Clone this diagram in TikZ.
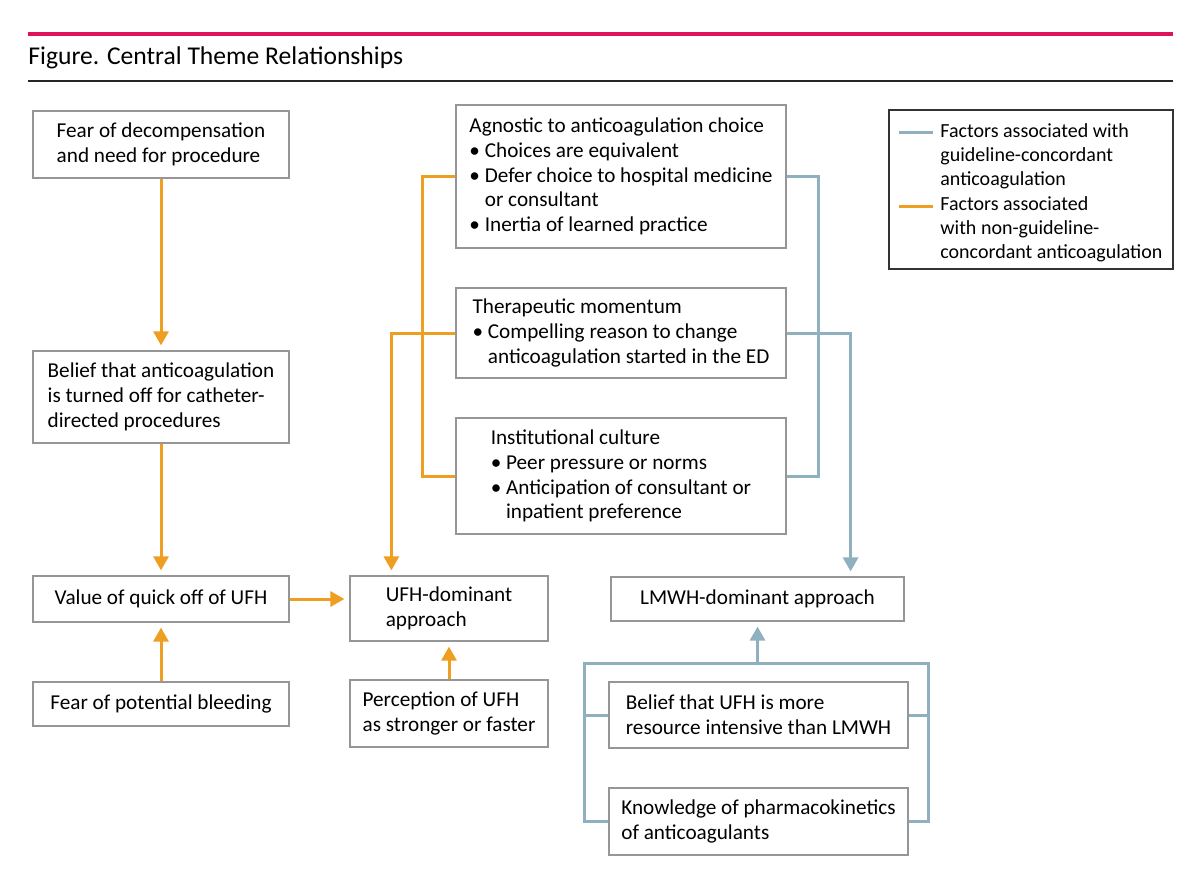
\documentclass[tikz,border=0pt]{standalone}
\usepackage{fontspec}
\setmainfont{Carlito}
\usetikzlibrary{arrows.meta}
\definecolor{jorange}{RGB}{238,158,32}
\definecolor{jblue}{RGB}{143,176,190}
\definecolor{jpink}{RGB}{224,18,92}
\definecolor{boxgray}{RGB}{150,150,150}
\newcommand{\bul}{\textbullet\ }
\newcommand{\hang}{\phantom{\textbullet\ }}
\tikzset{
	box/.style={draw=boxgray, line width=0.6pt, fill=white, align=left, inner sep=0pt, font=\fontsize{10.6}{12.4}\selectfont},
	oline/.style={jorange, line width=1.5pt},
	bline/.style={jblue, line width=1.5pt},
	oarrow/.style={oline, -{Triangle[length=7pt,width=7.5pt]}, shorten >=2.5pt},
	barrow/.style={bline, -{Triangle[length=7pt,width=7.5pt]}, shorten >=2.5pt},
	lgtext/.style={align=left, inner sep=0pt, font=\fontsize{10}{12}\selectfont}
}
\begin{document}
\begin{tikzpicture}[x=0.5pt,y=-0.5pt]
			\useasboundingbox (0,0) rectangle (1200,894);
			% header
			\draw [jpink, line width=2pt] (28,34) -- (1173,34);
			\node[anchor=west, inner sep=0pt, font=\fontsize{12.8}{14}\selectfont] (title) at (28,58) {Figure. Central Theme Relationships};
			\draw [black!85, line width=0.6pt] (28,81) -- (1173,81);
			% left column
			\node[box, minimum width=128pt, minimum height=33.5pt] (fear) at (161,144.5) {Fear of decompensation\\and need for procedure};
			\node[box, minimum width=128pt, minimum height=46pt] (belief) at (161,397) {Belief that anticoagulation\\is turned off for catheter-\\directed procedures};
			\node[box, minimum width=128pt, minimum height=23pt] (quick) at (161,599) {Value of quick off of UFH};
			\node[box, minimum width=128pt, minimum height=22pt] (bleed) at (161,704) {Fear of potential bleeding};
			% middle column
			\node[box, minimum width=165pt, minimum height=71.5pt] (agnostic) at (621,176.5) {Agnostic to anticoagulation choice\\\bul Choices are equivalent\\\bul Defer choice to hospital medicine\\\hang or consultant\\\bul Inertia of learned practice};
			\node[box, minimum width=165pt, minimum height=45pt] (momentum) at (621,333) {Therapeutic momentum\\\bul Compelling reason to change\\\hang anticoagulation started in the ED};
			\node[box, minimum width=165pt, minimum height=58pt] (culture) at (621,476) {Institutional culture\\\bul Peer pressure or norms\\\bul Anticipation of consultant or\\\hang inpatient preference};
			\node[box, minimum width=99pt, minimum height=32.5pt] (ufh) at (449,608.5) {UFH-dominant\\approach};
			\node[box, minimum width=99pt, minimum height=33.5pt] (percep) at (449,713.5) {Perception of UFH\\as stronger or faster};
			% right column
			\node[box, minimum width=146.5pt, minimum height=22pt] (lmwh) at (757.5,599) {LMWH-dominant approach};
			\node[box, minimum width=149.5pt, minimum height=33pt] (resource) at (758.5,715) {Belief that UFH is more\\resource intensive than LMWH};
			\node[box, minimum width=149.5pt, minimum height=33.5pt] (kinetics) at (758.5,821.5) {Knowledge of pharmacokinetics\\of anticoagulants};
			% legend
			\node[draw=black!80, line width=0.6pt, minimum width=142pt, minimum height=79.5pt, inner sep=0pt] (legend) at (1031,189.5) {};
			\node[lgtext, anchor=west] (lgblue) at (940,156) {Factors associated with\\guideline-concordant\\anticoagulation};
			\node[lgtext, anchor=west] (lgorange) at (940,229) {Factors associated\\with non-guideline-\\concordant anticoagulation};
			\draw [bline] ([xshift=-20.5pt,yshift=12pt]lgblue.west) -- ++(17pt,0);
			\draw [oline] ([xshift=-20.5pt,yshift=11.5pt]lgorange.west) -- ++(17pt,0);
			% orange connectors
			\draw [oarrow] (fear) -- (belief);
			\draw [oarrow] (belief) -- (quick);
			\draw [oarrow] (bleed) -- (quick);
			\draw [oarrow] (quick.east) -- (ufh.west |- quick.east);
			\draw [oarrow] (percep) -- (ufh);
			\draw [oline] (agnostic.west) -- ++(-16.5pt,0) |- (culture.west);
			\draw [oarrow] (momentum.west) -| ([xshift=21pt]ufh.north west);
			% blue connectors
			\draw [bline] (agnostic.east) -- ++(16pt,0) |- (culture.east);
			\draw [barrow] (momentum.east) -| ([xshift=-27pt]lmwh.north east);
			\coordinate (fork) at ([yshift=-21pt]lmwh.south);
			\draw [bline] (kinetics.west) -- ++(-12pt,0) |- (fork) -| ([xshift=10pt]kinetics.east) -- (kinetics.east);
			\draw [bline] (resource.west) -- ++(-12pt,0);
			\draw [bline] (resource.east) -- ++(10pt,0);
			\draw [barrow] (fork) -- (lmwh);
\end{tikzpicture}
\end{document}
